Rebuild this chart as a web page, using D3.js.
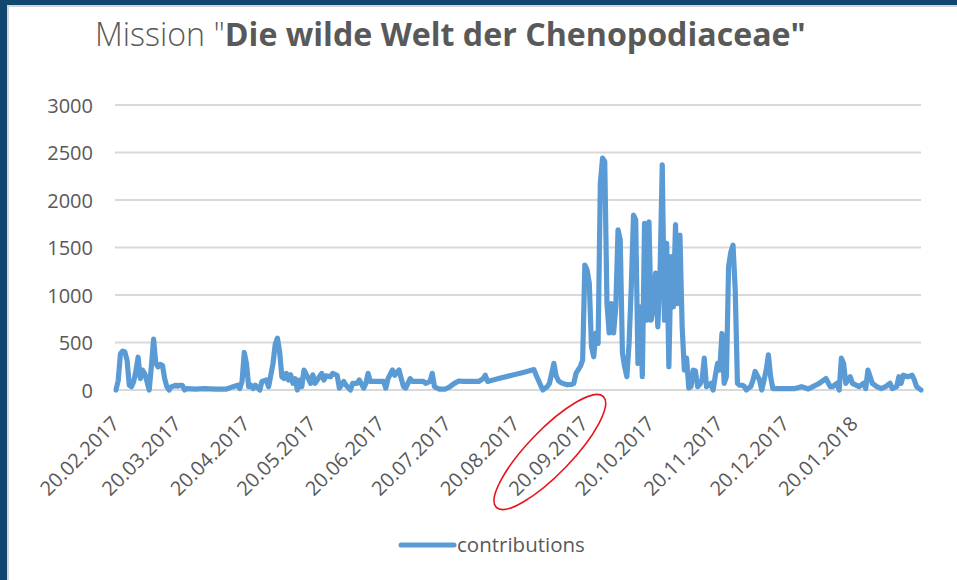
<!DOCTYPE html>
<html><head><meta charset="utf-8">
<script src="https://cdn.jsdelivr.net/npm/d3@7"></script>
<style>body{margin:0;background:#fff;} svg{display:block;}</style>
</head><body><svg id="c" width="957" height="580"></svg>
<script>
const dates = [
"20.02.2017","21.02.2017","22.02.2017","23.02.2017","24.02.2017","25.02.2017","26.02.2017","27.02.2017","28.02.2017",
"01.03.2017","02.03.2017","03.03.2017","04.03.2017","05.03.2017","06.03.2017","07.03.2017","08.03.2017","09.03.2017","10.03.2017",
"11.03.2017","12.03.2017","13.03.2017","14.03.2017","15.03.2017","16.03.2017","17.03.2017","18.03.2017","19.03.2017","20.03.2017",
"21.03.2017","22.03.2017","23.03.2017","24.03.2017","28.03.2017",
"01.04.2017","06.04.2017","11.04.2017","14.04.2017","16.04.2017","17.04.2017","18.04.2017","19.04.2017","20.04.2017","21.04.2017",
"22.04.2017","23.04.2017","24.04.2017","26.04.2017","27.04.2017","29.04.2017","30.04.2017",
"02.05.2017","03.05.2017","04.05.2017","05.05.2017","06.05.2017","07.05.2017","08.05.2017","09.05.2017","10.05.2017","11.05.2017",
"12.05.2017","13.05.2017","14.05.2017","15.05.2017","16.05.2017","18.05.2017","19.05.2017","20.05.2017","21.05.2017","22.05.2017",
"24.05.2017","25.05.2017","26.05.2017","28.05.2017","29.05.2017","31.05.2017",
"01.06.2017","03.06.2017","04.06.2017","06.06.2017","07.06.2017","09.06.2017","10.06.2017","12.06.2017","13.06.2017","14.06.2017",
"15.06.2017","16.06.2017","19.06.2017","21.06.2017","22.06.2017","23.06.2017","25.06.2017","26.06.2017","28.06.2017","29.06.2017","30.06.2017",
"01.07.2017","03.07.2017","04.07.2017","07.07.2017","09.07.2017","10.07.2017","12.07.2017","13.07.2017","14.07.2017","16.07.2017",
"19.07.2017","21.07.2017","23.07.2017","25.07.2017","27.07.2017","31.07.2017",
"03.08.2017","05.08.2017","06.08.2017","07.08.2017","12.08.2017","18.08.2017","24.08.2017","28.08.2017","29.08.2017","31.08.2017",
"01.09.2017","03.09.2017","04.09.2017","06.09.2017","07.09.2017","08.09.2017","09.09.2017","10.09.2017","12.09.2017","14.09.2017",
"15.09.2017","16.09.2017","18.09.2017","19.09.2017","20.09.2017","21.09.2017","22.09.2017","23.09.2017","24.09.2017","25.09.2017",
"26.09.2017","27.09.2017","28.09.2017","29.09.2017","30.09.2017",
"01.10.2017","02.10.2017","03.10.2017","04.10.2017","05.10.2017","06.10.2017","07.10.2017","08.10.2017","09.10.2017","10.10.2017",
"11.10.2017","12.10.2017","13.10.2017","14.10.2017","15.10.2017","16.10.2017","17.10.2017","18.10.2017","19.10.2017","20.10.2017",
"21.10.2017","22.10.2017","23.10.2017","24.10.2017","25.10.2017","26.10.2017","27.10.2017","28.10.2017","29.10.2017","30.10.2017","31.10.2017",
"01.11.2017","02.11.2017","03.11.2017","04.11.2017","05.11.2017","06.11.2017","07.11.2017","08.11.2017","09.11.2017","10.11.2017",
"11.11.2017","12.11.2017","13.11.2017","14.11.2017","15.11.2017","16.11.2017","17.11.2017","18.11.2017","19.11.2017","20.11.2017",
"21.11.2017","22.11.2017","23.11.2017","24.11.2017","25.11.2017","26.11.2017","27.11.2017","28.11.2017","29.11.2017","30.11.2017",
"01.12.2017","02.12.2017","03.12.2017","04.12.2017","05.12.2017","06.12.2017","07.12.2017","08.12.2017","09.12.2017","10.12.2017",
"11.12.2017","12.12.2017","13.12.2017","14.12.2017","18.12.2017","24.12.2017","27.12.2017","30.12.2017",
"04.01.2018","07.01.2018","09.01.2018","10.01.2018","12.01.2018","13.01.2018","14.01.2018","15.01.2018","16.01.2018","18.01.2018",
"19.01.2018","22.01.2018","24.01.2018","25.01.2018","26.01.2018","28.01.2018","30.01.2018",
"01.02.2018","03.02.2018","05.02.2018","06.02.2018","08.02.2018","09.02.2018","10.02.2018","11.02.2018","13.02.2018","15.02.2018",
"16.02.2018","17.02.2018","19.02.2018"
];
const contributions = [
0,100,380,410,400,315,50,35,90,
200,345,120,210,170,90,0,250,535,280,
245,270,260,120,35,0,35,40,50,40,
50,50,0,15,10,
15,10,10,35,50,15,90,395,280,35,
50,15,50,0,90,105,35,
280,480,545,400,140,120,175,105,160,70,
120,0,105,35,210,120,70,160,70,105,
175,105,150,140,175,155,
20,90,50,0,70,70,105,20,70,175,
90,90,90,90,20,120,210,155,210,120,35,
20,120,90,90,90,70,90,175,35,10,
10,35,70,95,90,90,
90,120,155,90,120,155,190,215,155,50,
0,35,70,280,150,100,80,70,55,60,
70,175,250,315,1315,1265,1125,455,350,600,
490,2175,2440,2405,910,
600,910,600,875,1685,1580,385,245,140,490,
1090,1840,1790,280,875,140,1755,735,1770,735,
875,1230,665,1230,2370,735,1545,245,1405,875,1740,
910,1630,665,210,335,20,35,210,200,35,
60,105,335,35,50,70,0,150,280,210,
595,70,140,1300,1450,1525,1050,70,50,50,
40,0,20,35,100,195,150,105,0,100,
210,370,140,15,15,15,35,10,
70,120,35,35,70,0,335,280,70,140,
70,35,70,15,210,70,35,
15,35,70,15,35,140,70,155,140,155,
105,35,0
];
const yTicks = [0, 500, 1000, 1500, 2000, 2500, 3000];
const xTickLabels = ["20.02.2017","20.03.2017","20.04.2017","20.05.2017","20.06.2017","20.07.2017",
  "20.08.2017","20.09.2017","20.10.2017","20.11.2017","20.12.2017","20.01.2018"];
const xDomainLabels = ["20.02.2017", "19.02.2018"];
const highlightedLabel = "20.09.2017";
const titleLight = 'Mission "';
const titleBold = 'Die wilde Welt der Chenopodiaceae"';
const seriesName = "contributions";

const FONT = "'Open Sans', 'Noto Sans', sans-serif";
const TXT = "#595959";
const parse = d3.timeParse("%d.%m.%Y");
const svg = d3.select("#c");

// background & frame
svg.append("rect").attr("width", 957).attr("height", 580).attr("fill", "#ffffff");
svg.append("rect").attr("x", 0).attr("y", 0).attr("width", 957).attr("height", 5).attr("fill", "#11466f");
svg.append("rect").attr("x", 0).attr("y", 5).attr("width", 957).attr("height", 2).attr("fill", "#d6d6d6");
svg.append("rect").attr("x", 0).attr("y", 0).attr("width", 7).attr("height", 580).attr("fill", "#11466f");
svg.append("rect").attr("x", 7).attr("y", 5).attr("width", 2).attr("height", 575).attr("fill", "#d6d6d6");

const x = d3.scaleTime().domain(xDomainLabels.map(parse)).range([116, 921]);
const y = d3.scaleLinear().domain([0, 3000]).range([390, 105]);

// gridlines
svg.append("g").selectAll("line").data(yTicks).join("line")
  .attr("x1", 115).attr("x2", 921)
  .attr("y1", d => y(d)).attr("y2", d => y(d))
  .attr("stroke", "#d9d9d9").attr("stroke-width", 1.8);

// y axis
const yAxis = svg.append("g").attr("transform", "translate(93,0)")
  .call(d3.axisLeft(y).tickValues(yTicks).tickFormat(d3.format("d")).tickSize(0).tickPadding(0));
yAxis.select(".domain").remove();
yAxis.selectAll("text").attr("font-family", FONT).attr("font-size", 20).attr("fill", TXT)
  .attr("dy", "0.35em");

// x axis labels
const xAxis = svg.append("g").attr("transform", "translate(0,390)")
  .call(d3.axisBottom(x).tickValues(xTickLabels.map(parse)).tickSize(0)
    .tickFormat(d3.timeFormat("%d.%m.%Y")));
xAxis.select(".domain").remove();
xAxis.selectAll(".tick text")
  .attr("font-family", FONT).attr("font-size", 20).attr("fill", TXT)
  .attr("text-anchor", "end")
  .attr("x", 0).attr("y", 0).attr("dy", 0)
  .attr("transform", "translate(4,35) rotate(-45)");

// line
const data = dates.map((d, i) => ({date: parse(d), value: contributions[i]}));
svg.append("path").datum(data)
  .attr("fill", "none").attr("stroke", "#5b9bd5").attr("stroke-width", 5.2)
  .attr("stroke-linejoin", "round").attr("stroke-linecap", "round")
  .attr("d", d3.line().x(d => x(d.date)).y(d => y(d.value)));

// red ellipse around highlighted label
const hx = x(parse(highlightedLabel)) + 4 - 38;
svg.append("ellipse")
  .attr("cx", 0).attr("cy", 0).attr("rx", 77).attr("ry", 22)
  .attr("transform", `translate(${hx - 1},452) rotate(-46)`)
  .attr("fill", "none").attr("stroke", "#e8141b").attr("stroke-width", 1.6);

// title
const title = svg.append("text").attr("x", 95).attr("y", 46)
  .attr("font-family", FONT).attr("font-size", 28).attr("fill", TXT);
title.append("tspan").attr("font-weight", 300).text(titleLight);
title.append("tspan").attr("font-weight", 700).text(titleBold);
const tw = title.node().getComputedTextLength();
title.attr("font-size", 28 * 711 / tw);

// legend
const lg = svg.append("g");
lg.append("line").attr("x1", 401).attr("x2", 454).attr("y1", 545).attr("y2", 545)
  .attr("stroke", "#5b9bd5").attr("stroke-width", 5).attr("stroke-linecap", "round");
lg.append("text").attr("x", 457).attr("y", 545).attr("dy", "0.35em")
  .attr("font-family", FONT).attr("font-size", 20.5).attr("fill", TXT).text(seriesName);
</script>
</body></html>
